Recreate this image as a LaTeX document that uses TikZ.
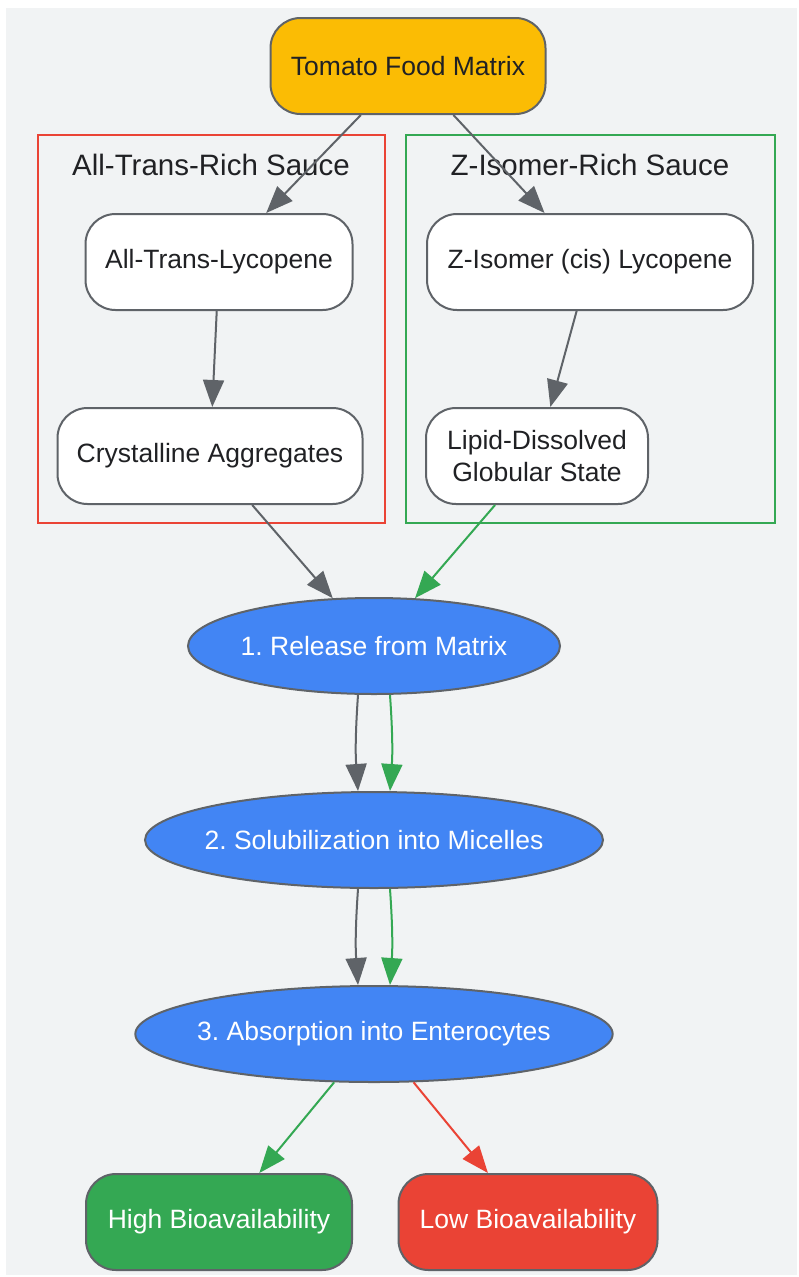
\documentclass[tikz,border=0pt]{standalone}
\usepackage{fontspec}
\setmainfont{Liberation Sans}
\usetikzlibrary{positioning,shapes.geometric,arrows.meta}
\frenchspacing
\definecolor{bgGray}{HTML}{F1F3F4}
\definecolor{lineGray}{HTML}{5F6368}
\definecolor{txtDark}{HTML}{202124}
\definecolor{gBlue}{HTML}{4285F4}
\definecolor{gGreen}{HTML}{34A853}
\definecolor{gRed}{HTML}{EA4335}
\definecolor{gYellow}{HTML}{FBBC04}
\tikzset{
  box/.style={rectangle,rounded corners=30pt,draw=lineGray,line width=2pt,fill=white,
    minimum height=96pt,inner sep=0pt,text=txtDark,align=center,
    font=\fontsize{26.5}{32}\selectfont},
  stage/.style={ellipse,draw=lineGray,line width=2pt,fill=gBlue,minimum height=96pt,
    inner sep=0pt,inner xsep=-8pt,text=white,font=\fontsize{26.5}{32}\selectfont},
  flow/.style={line width=2pt,-{Triangle[length=27pt,width=21pt]}},
  grouplabel/.style={text=txtDark,font=\fontsize{29.5}{34}\selectfont}
}
\begin{document}
\begin{tikzpicture}[x=1pt,y=-1pt]
  \useasboundingbox (0,0) rectangle (799,1277);
  \fill[bgGray] (6,8) rectangle (797,1275);
  % sauce groups
  \draw[gRed,line width=2pt] (38,135) rectangle (385,523);
  \node[grouplabel] (transgrp) at (211,165) {All-Trans-Rich Sauce};
  \draw[gGreen,line width=2pt] (406,135) rectangle (775,523);
  \node[grouplabel] (zgrp) at (590,165) {Z-Isomer-Rich Sauce};

  \node[box,fill=gYellow,minimum width=275pt] (matrix) at (408,66) {Tomato Food Matrix};
  \node[box,minimum width=267pt] (atl) at (219,262) {All-Trans-Lycopene};
  \node[box,minimum width=305pt,below=96pt of atl,xshift=-9pt] (crys) {Crystalline Aggregates};
  \node[box,minimum width=326pt] (zlyc) at (590,262) {Z-Isomer (cis) Lycopene};
  \node[box,minimum width=222pt,below=96pt of zlyc,xshift=-53pt] (lipid) {Lipid-Dissolved\\Globular State};

  % digestion steps
  \node[stage,minimum width=372pt] (release) at (374,646) {1. Release from Matrix};
  \node[stage,minimum width=458pt,below=96pt of release] (micelle) {2. Solubilization into Micelles};
  \node[stage,minimum width=474pt,below=96pt of micelle] (absorb) {3. Absorption into Enterocytes};

  \node[box,fill=gGreen,text=white,minimum width=266pt] (high) at (219,1222) {High Bioavailability};
  \node[box,fill=gRed,text=white,minimum width=259pt] (low) at (528,1222) {Low Bioavailability};

  \foreach \from/\to/\col in
  {matrix/atl/lineGray, matrix/zlyc/lineGray, atl/crys/lineGray, zlyc/lipid/lineGray,
   crys/release/lineGray, lipid/release/gGreen, absorb/high/gGreen, absorb/low/gRed}
    \draw[flow,\col] (\from) -- (\to);

  \foreach \up/\down in {release/micelle, micelle/absorb}{
    \draw[flow,lineGray] ([xshift=-16pt]\up.south) to[bend right=4] ([xshift=-16pt]\down.north);
    \draw[flow,gGreen] ([xshift=16pt]\up.south) to[bend left=4] ([xshift=16pt]\down.north);
  }
\end{tikzpicture}
\end{document}
